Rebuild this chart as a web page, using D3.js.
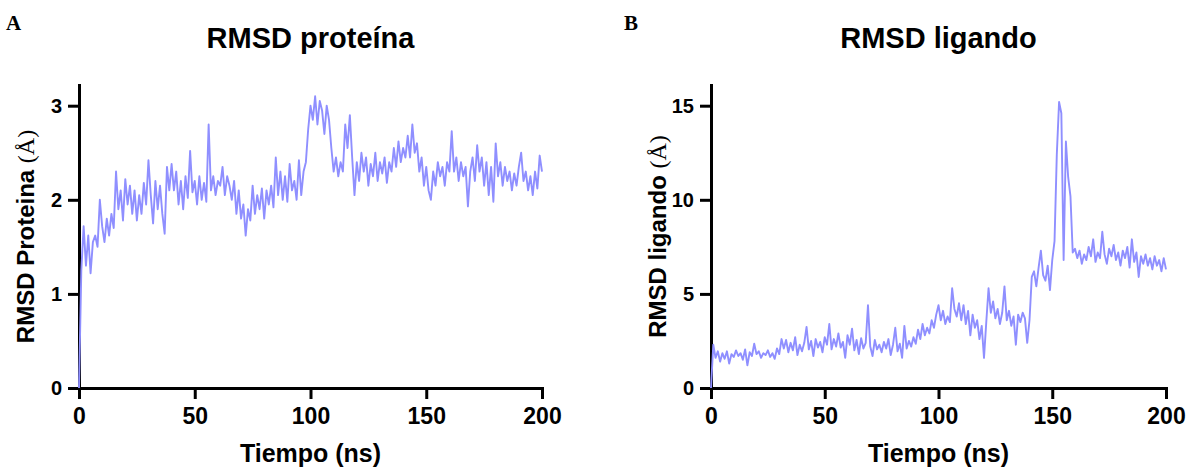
<!DOCTYPE html>
<html>
<head>
<meta charset="utf-8">
<script src="https://cdn.jsdelivr.net/npm/d3@7"></script>
<style>
  body { margin: 0; background: #fff; }
  svg text { font-family: "Liberation Sans", Arial, sans-serif; font-weight: bold; fill: #000; }
</style>
</head>
<body>
<svg id="chart" width="1188" height="469"></svg>
<script>
// values, one per ns
const tiempo = d3.range(0, 201);

const rmsdProteina = [
  0.00,
  1.25, 1.72, 1.30, 1.62, 1.22, 1.55, 1.62, 1.50, 2.00, 1.72,
  1.55, 1.80, 1.62, 1.85, 1.70, 2.30, 1.90, 2.10, 1.78, 2.22,
  1.95, 2.15, 1.85, 2.10, 1.78, 2.05, 1.85, 2.18, 1.95, 2.42,
  2.05, 1.75, 2.20, 1.90, 2.15, 1.85, 1.64, 2.35, 2.10, 2.38,
  2.10, 2.30, 1.95, 2.20, 1.90, 2.25, 2.02, 2.52, 2.08, 2.20,
  1.95, 2.25, 2.00, 2.18, 1.98, 2.80, 2.10, 2.25, 2.05, 2.20,
  2.15, 2.35, 2.05, 2.25, 2.15, 2.00, 2.20, 1.85, 2.10, 1.80,
  1.95, 1.62, 1.90, 1.78, 2.15, 1.85, 2.05, 1.90, 2.12, 1.80,
  2.10, 1.95, 2.15, 1.92, 2.45, 2.05, 2.30, 2.00, 2.25, 1.98,
  2.38, 2.10, 2.20, 2.00, 2.42, 2.05, 2.30, 2.40, 2.75, 3.00,
  2.85, 3.10, 2.80, 3.05, 2.95, 2.70, 3.00, 2.85, 2.55, 2.30,
  2.45, 2.25, 2.40, 2.30, 2.80, 2.55, 2.90, 2.45, 2.05, 2.40,
  2.20, 2.50, 2.30, 2.45, 2.15, 2.38, 2.25, 2.50, 2.20, 2.40,
  2.28, 2.45, 2.18, 2.40, 2.30, 2.55, 2.35, 2.62, 2.40, 2.55,
  2.45, 2.68, 2.45, 2.80, 2.50, 2.60, 2.30, 2.45, 2.15, 2.35,
  2.10, 2.00, 2.30, 2.15, 2.40, 2.25, 2.35, 2.15, 2.40, 2.30,
  2.73, 2.30, 2.45, 2.20, 2.40, 2.25, 2.35, 1.93, 2.30, 2.45,
  2.20, 2.58, 2.30, 2.45, 2.15, 2.40, 2.05, 2.35, 1.98, 2.60,
  2.25, 2.40, 2.15, 2.35, 2.20, 2.30, 2.10, 2.28, 2.15, 2.35,
  2.50, 2.20, 2.30, 2.10, 2.25, 2.05, 2.30, 2.12, 2.47, 2.30
];

const rmsdLigando = [
  0.00,
  2.30, 1.60, 1.95, 1.40, 1.85, 1.55, 1.95, 1.30, 1.80, 1.65,
  2.00, 1.70, 1.85, 1.50, 2.05, 1.20, 1.90, 1.70, 2.35, 1.80,
  1.95, 1.60, 1.85, 1.75, 2.00, 1.65, 1.85, 1.55, 2.10, 1.80,
  2.60, 2.10, 2.55, 1.90, 2.40, 2.00, 2.70, 1.75, 2.30, 1.95,
  2.40, 3.25, 2.05, 2.50, 1.70, 2.60, 2.15, 2.45, 1.90, 2.70,
  2.30, 3.40, 2.05, 2.60, 2.20, 2.90, 2.15, 2.45, 1.60, 2.80,
  2.30, 3.15, 2.00, 2.55, 1.80, 2.65, 2.10, 2.40, 4.40, 2.20,
  1.70, 2.55, 2.05, 2.30, 1.90, 2.45, 2.10, 2.60, 1.75, 2.30,
  3.20, 1.95, 2.35, 1.60, 3.30, 2.10, 2.50, 2.20, 2.70, 2.35,
  3.10, 2.60, 3.40, 2.80, 3.20, 2.90, 3.60, 3.20, 3.90, 4.40,
  3.60, 4.10, 3.40, 3.80, 3.50, 5.30, 4.20, 3.80, 4.50, 3.60,
  4.40, 3.40, 4.10, 2.80, 3.90, 3.20, 3.60, 2.60, 3.30, 1.60,
  3.50, 5.30, 4.00, 4.60, 3.70, 4.20, 3.40, 4.00, 5.40, 3.60,
  4.10, 3.30, 3.80, 2.30, 3.90, 3.50, 4.00, 3.70, 2.40, 3.60,
  5.90, 6.20, 5.40, 6.40, 7.30, 6.00, 5.70, 6.50, 5.20, 6.80,
  7.80, 12.4, 15.2, 14.6, 6.80, 13.1, 11.2, 10.2, 7.20, 7.40,
  6.90, 7.30, 6.60, 7.10, 6.80, 7.50, 7.00, 7.90, 6.70, 7.20,
  6.90, 8.30, 7.10, 6.60, 7.40, 7.00, 7.60, 6.80, 7.20, 6.50,
  7.30, 6.90, 7.50, 6.40, 7.90, 6.70, 7.20, 5.90, 7.00, 6.60,
  7.10, 6.50, 6.90, 6.30, 7.00, 6.50, 6.80, 6.20, 6.90, 6.30
];

const ticksTiempo = [0, 50, 100, 150, 200];
const ticksProteina = [0, 1, 2, 3];
const ticksLigando = [0, 5, 10, 15];

window.app = {};

app.panels = [
  { letter: 'A', letterX: 6, title: 'RMSD proteína', ylabel: 'RMSD Proteina ',
    values: rmsdProteina, ticks: ticksProteina, ymax: 3.22, left: 79, right: 542 },
  { letter: 'B', letterX: 624, title: 'RMSD ligando', ylabel: 'RMSD ligando ',
    values: rmsdLigando, ticks: ticksLigando, ymax: 16.1, left: 711, right: 1166 }
];

app.init = function() {
  let svg = d3.select('#chart');
  app.panels.forEach(p => app.drawPanel(svg, p));
};

app.styleAxis = function(g, size) {
  g.attr('font-family', '"Liberation Sans", Arial, sans-serif')
    .attr('font-size', size)
    .attr('font-weight', 'bold');
  g.selectAll('path, line').attr('stroke', '#000').attr('stroke-width', 3);
  g.select('.domain').attr('stroke-linecap', 'square');
};

app.drawPanel = function(svg, p) {
  let top = 85, bottom = 388;
  let x = d3.scaleLinear().domain([0, 200]).range([p.left, p.right]);
  let y = d3.scaleLinear().domain([0, p.ymax]).range([bottom, top]);
  let mid = (p.left + p.right) / 2;

  let g = svg.append('g');

  g.append('g')
    .attr('transform', `translate(0,${bottom})`)
    .call(d3.axisBottom(x).tickValues(ticksTiempo).tickSize(11).tickSizeOuter(0).tickPadding(9))
    .call(a => app.styleAxis(a, 23));

  g.append('g')
    .attr('transform', `translate(${p.left},0)`)
    .call(d3.axisLeft(y).tickValues(p.ticks).tickFormat(d3.format('d'))
      .tickSize(11).tickSizeOuter(0).tickPadding(6))
    .call(a => app.styleAxis(a, 20));

  let points = tiempo.map((t, i) => ({ t: t, v: p.values[i] }));
  g.append('path')
    .datum(points)
    .attr('fill', 'none')
    .attr('stroke', '#8f8fff')
    .attr('stroke-width', 1.9)
    .attr('stroke-linejoin', 'round')
    .attr('d', d3.line().x(d => x(d.t)).y(d => y(d.v)));

  g.append('text')
    .attr('x', mid).attr('y', 48)
    .attr('text-anchor', 'middle')
    .attr('font-size', 29)
    .text(p.title);

  g.append('text')
    .attr('x', mid).attr('y', 462)
    .attr('text-anchor', 'middle')
    .attr('font-size', 25)
    .text('Tiempo (ns)');

  let yl = g.append('text')
    .attr('transform', `translate(${p.left - 45},${(top + bottom) / 2}) rotate(-90)`)
    .attr('text-anchor', 'middle')
    .attr('font-size', 24);
  yl.append('tspan').text(p.ylabel);
  yl.append('tspan')
    .style('font-family', '"Liberation Serif", "Times New Roman", serif')
    .style('font-weight', 'normal')
    .text('(Å)');

  g.append('text')
    .attr('x', p.letterX).attr('y', 30)
    .style('font-family', '"Liberation Serif", "Times New Roman", serif')
    .attr('font-size', 21)
    .text(p.letter);
};

app.init();
</script>
</body>
</html>
